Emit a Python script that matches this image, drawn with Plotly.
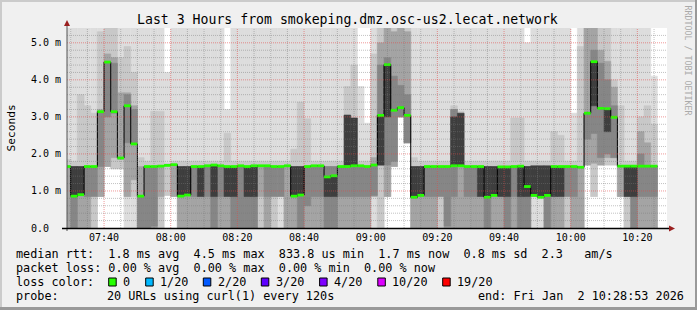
import numpy as np
import pandas as pd
import plotly.graph_objects as go

# ------------------------------------------------------------------ data
# 2-minute bins (start times); first one is clipped by the graph start
bin_start = pd.date_range("2026-01-02 07:28:00", periods=89, freq="2min")
graph_start = pd.Timestamp("2026-01-02 07:28:53")
graph_end = pd.Timestamp("2026-01-02 10:28:53")

# median rtt per bin (ms)
median_ms = [
    1.66, 0.86, 0.90, 1.66, 1.66, 3.14, 4.48, 3.14, 1.89, 3.30,
    2.27, 0.86, 1.66, 1.66, 1.67, 1.69, 1.71, 0.86, 0.89, 1.66,
    1.66, 1.68, 1.70, 1.68, 1.66, 1.66, 1.68, 1.66, 1.68, 1.68,
    1.68, 1.66, 1.66, 1.68, 0.86, 0.89, 1.66, 1.68, 1.68, 1.38,
    1.41, 1.66, 1.66, 1.68, 1.68, 1.66, 1.70, 3.04, 4.41, 3.18,
    3.25, 3.04, 0.83, 0.88, 1.66, 1.66, 1.66, 1.66, 1.68, 1.68,
    1.66, 1.66, 1.66, 0.83, 0.88, 1.65, 1.65, 1.66, 1.67, 1.12,
    0.88, 0.83, 0.88, 1.66, 1.66, 1.66, 1.66, 1.64, 3.10, 4.49,
    3.23, 3.22, 2.99, 1.67, 1.67, 1.67, 1.67, 1.67, 1.67,
]

# smoke bands (ms): lower / upper edge of each ping-spread band, outer -> inner
s1_lo = [
    0, 0, 0, 0, 0, 0.85, 1.66, 1.6, 1.6, 0,
    0, 0, 0, 0, 0, 0.88, 0.85, 0, 0, 0,
    0, 0, 0, 0, 0, 0, 0, 0, 0, 0,
    0, 0, 0, 0, 0, 0, 0, 0, 0, 0,
    0, 0, 0, 0, 0, 0, 0, 0, 0.85, 1.66,
    3.0, 2.3, 0, 0, 0, 0, 0, 0, 0, 0,
    0, 0, 0, 0, 0, 0, 0, 0, 0, 0,
    0, 0, 0, 0, 0, 0, 0, 0, 1.7, 0.85,
    1.7, 1.7, 1.7, 0.85, 0, 0, 0, 0, 0,
]
s1_hi = [
    5.6, 5.6, 5.6, 5.6, 5.6, 5.6, 5.6, 5.6, 5.6, 5.6,
    5.6, 5.6, 5.6, 5.6, 5.6, 4.2, 5.6, 5.6, 5.6, 5.6,
    5.6, 5.6, 5.6, 5.6, 3.2, 5.6, 5.6, 5.6, 5.6, 5.6,
    5.6, 5.6, 5.6, 5.6, 5.6, 5.6, 5.6, 5.6, 5.6, 5.6,
    5.6, 5.6, 5.6, 5.6, 3.82, 2.83, 5.6, 5.6, 5.6, 5.6,
    5.6, 5.6, 5.6, 5.6, 5.6, 5.6, 5.6, 5.6, 5.6, 5.6,
    5.6, 5.6, 5.6, 5.6, 5.6, 5.6, 5.6, 5.6, 5.6, 5.0,
    5.6, 5.6, 5.6, 5.6, 5.6, 5.6, 3.1, 5.6, 5.6, 5.6,
    5.6, 5.6, 5.6, 5.6, 5.6, 5.6, 5.6, 5.6, 4.1,
]
s2_lo = [
    0, 0, 0, 0, 0, 0.85, 1.66, 1.6, 1.6, 0.85,
    0.85, 0, 0, 0, 0, 0.88, 0.85, 0, 0, 0,
    0, 0, 0, 0, 0, 0, 0, 0, 0, 0,
    0, 0, 0.85, 0, 0, 0, 0, 0, 0, 0,
    0, 0, 0, 0, 0, 0, 0.85, 0, 0.85, 1.66,
    3.0, 2.3, 0, 0, 0, 0, 0, 0, 0, 0,
    0, 0, 0, 0, 0, 0, 0, 0, 0, 0,
    0.85, 0.85, 0, 0, 0, 0, 0, 0, 1.7, 0.85,
    1.7, 1.7, 1.7, 0.85, 0, 0, 0, 0, 0,
]
s2_hi = [
    1.85, 1.8, 3.6, 3.3, 3.1, 5.3, 5.4, 5.4, 4.6, 4.9,
    4.2, 1.9, 1.8, 3.15, 3.15, 1.75, 1.8, 1.8, 1.8, 1.8,
    1.8, 1.8, 1.8, 1.8, 2.56, 1.8, 1.8, 1.8, 1.8, 1.8,
    1.8, 1.8, 1.8, 1.8, 2.13, 3.4, 2.95, 1.8, 1.8, 1.8,
    1.8, 1.8, 3.82, 4.4, 1.8, 1.8, 4.7, 5.4, 5.4, 5.4,
    5.4, 5.4, 1.9, 1.8, 1.8, 1.8, 1.8, 1.8, 3.3, 3.15,
    1.8, 1.8, 1.8, 1.8, 1.8, 1.8, 1.8, 2.97, 2.97, 1.8,
    1.8, 1.8, 1.8, 2.6, 2.5, 1.8, 1.8, 4.9, 5.4, 5.4,
    5.4, 5.4, 4.0, 3.3, 1.8, 1.8, 3.0, 3.3, 2.8,
]
s3_lo = [
    0, 0, 0, 0, 0, 0.85, 1.66, 1.9, 1.85, 0.85,
    1.3, 0, 0, 0, 0.85, 0, 0.85, 0, 0, 0,
    0, 0, 0, 0, 0, 0, 0, 0, 0, 0.85,
    0, 0, 0, 0, 0, 0, 0, 0, 0, 0,
    0, 0, 0, 0, 0, 0, 0.85, 1.7, 0.85, 1.66,
    3.0, 2.3, 0, 0, 0, 0, 0, 0, 0, 0,
    0, 0, 0, 0, 0, 0, 0, 0, 0, 0,
    0.85, 0, 0, 0, 0, 0, 0, 0, 1.7, 1.75,
    1.7, 1.9, 1.9, 0.85, 0.85, 0, 0, 0, 0,
]
s3_hi = [
    1.66, 0, 1.66, 1.66, 0, 3.2, 4.7, 4.6, 3.65, 3.65,
    3.3, 1.66, 1.66, 1.66, 1.67, 0, 1.71, 1.66, 1.66, 1.66,
    1.66, 1.68, 1.7, 1.68, 1.66, 1.66, 1.68, 1.66, 1.68, 1.68,
    1.68, 0, 0, 1.68, 1.66, 1.66, 1.66, 1.68, 1.68, 1.66,
    1.66, 1.66, 1.66, 1.68, 1.68, 1.66, 1.9, 5.0, 5.4, 5.3,
    5.4, 5.3, 1.66, 1.66, 1.66, 1.66, 0, 1.66, 3.2, 3.1,
    1.66, 1.66, 1.66, 1.66, 1.66, 1.66, 1.66, 1.66, 1.67, 1.66,
    1.66, 0, 1.66, 1.66, 1.66, 0, 1.66, 1.64, 5.4, 5.4,
    4.8, 4.5, 3.8, 1.67, 1.67, 1.67, 2.6, 2.3, 1.67,
]
s4_lo = [
    0, 0, 0, 0.85, 0.85, 1.66, 3.0, 3.1, 0, 2.3,
    2.27, 0, 0, 0.05, 0, 0, 0, 0, 0, 0.85,
    0, 0.85, 0, 0.85, 0, 0, 0, 0, 0, 0,
    0.85, 0.85, 0.85, 0, 0, 0, 0.6, 0.85, 0.85, 0,
    0, 0.85, 0.85, 0.85, 0.85, 0.85, 0.88, 1.7, 1.7, 1.8,
    3.0, 2.3, 0, 0, 0.85, 0.85, 0.85, 0.05, 0.85, 0,
    0.85, 0.85, 0, 0, 0, 0, 0, 0.85, 0, 0,
    0, 0, 0, 0, 0, 0.85, 0.85, 0, 2.4, 2.55,
    1.9, 2.0, 1.9, 0, 0, 0, 0.85, 0.85, 0.85,
]
s4_hi = [
    0, 1.66, 0, 1.66, 1.66, 3.14, 4.48, 4.45, 0, 3.6,
    3.2, 0.87, 1.66, 1.66, 0, 0, 0, 0, 0, 1.66,
    0, 1.68, 0.85, 1.68, 0, 0.85, 1.68, 1.66, 1.68, 0,
    1.68, 1.66, 1.66, 0, 0, 0.89, 1.66, 1.68, 1.68, 1.66,
    1.66, 1.66, 1.66, 1.68, 1.68, 1.66, 1.70, 4.4, 4.6, 4.1,
    3.85, 3.6, 0, 0, 1.66, 1.66, 1.66, 1.66, 3.2, 0,
    1.66, 1.66, 0, 0.83, 0, 0, 0.85, 1.66, 0.85, 1.66,
    0, 0, 0.88, 0, 0, 1.66, 1.66, 0, 3.1, 4.8,
    4.45, 4.0, 3.3, 0, 0, 0.85, 2.0, 1.67, 1.67,
]
s5_lo = [
    0, 0.86, 0.9, 0, 0, 0, 0, 0, 0, 0,
    0, 0, 0, 0, 0, 0, 0, 0.86, 0.89, 0,
    0.85, 0, 0.85, 0, 0.85, 0.85, 0, 0.85, 0.85, 0,
    0, 0, 0, 0, 0.86, 0.89, 0, 0, 0, 0.85,
    0.85, 0, 1.68, 1.68, 0, 0, 0, 1.7, 3.0, 0,
    0, 0, 0.83, 0.88, 0, 0, 0, 0, 1.7, 1.7,
    0, 0, 0.85, 0.83, 0.88, 0.85, 0.85, 0, 0.85, 0.85,
    0.88, 0.83, 0.88, 0.85, 0.85, 0, 0, 0, 0, 3.3,
    0, 2.6, 0, 0, 0.85, 0.85, 0, 0, 0,
]
s5_hi = [
    0, 1.66, 1.66, 0, 0, 0, 0, 0, 0, 0,
    0, 0, 0, 0, 0, 0, 0, 1.66, 1.66, 0,
    1.66, 0, 1.7, 0, 1.66, 1.66, 0, 1.66, 1.68, 0,
    0, 0, 0, 0, 1.66, 1.66, 0, 0, 0, 1.38,
    1.41, 0, 3.05, 2.97, 0, 0, 0, 3.04, 4.41, 0,
    0, 0, 1.66, 1.66, 0, 0, 0, 0, 3.0, 3.1,
    0, 0, 1.66, 1.66, 1.66, 1.65, 1.65, 0, 1.67, 1.66,
    1.68, 1.68, 1.68, 1.66, 1.66, 0, 0, 0, 0, 4.49,
    0, 3.22, 0, 0, 1.67, 1.67, 0, 0, 0,
]

x_tick_labels = ["07:40", "08:00", "08:20", "08:40", "09:00", "09:20", "09:40", "10:00", "10:20"]
y_tick_vals = [0, 1, 2, 3, 4, 5]
y_tick_labels = ["0.0\u00a0\u00a0", "1.0 m", "2.0 m", "3.0 m", "4.0 m", "5.0 m"]

rtt_avg, rtt_max, rtt_min, rtt_now, rtt_sd, rtt_ams = "1.8 ms", "4.5 ms", "833.8 us", "1.7 ms", "0.8 ms", "2.3"
loss_avg, loss_max, loss_min, loss_now = "0.00 %", "0.00 %", "0.00 %", "0.00 %"
loss_labels = ["0", "1/20", "2/20", "3/20", "4/20", "10/20", "19/20"]
probe_text = "20 URLs using curl(1) every 120s"
end_text = "end: Fri Jan  2 10:28:53 2026"
title_text = "Last 3 Hours from smokeping.dmz.osc-us2.lecat.network"

# ------------------------------------------------------------------ styles / layout
W, H = 697, 310
PL, PR, PT, PB = 67, 667, 28, 228          # plot area in pixels
MONO = "DejaVu Sans Mono"
smoke_colors = ["#dddddd", "#c8c8c8", "#a4a4a4", "#868686", "#3e3e3e"]
loss_colors = ["#26ff00", "#00b8ff", "#0059ff", "#5e00ff", "#7e00ff", "#dd00ff", "#ff0000"]
legend_box_x = [108.7, 145.7, 203.3, 261.3, 319.6, 377.8, 442.7]


def px(x):
    return (x - PL) / (PR - PL)


def py(y):
    return (PB - y) / (PB - PT)


def nb(s):
    return s.replace(" ", "\u00a0")


centers = bin_start + pd.Timedelta(minutes=1)
bin_end = bin_start + pd.Timedelta(minutes=2)
BIN_MS = 120000

fig = go.Figure()

for (lo, hi), col in zip([(s1_lo, s1_hi), (s2_lo, s2_hi), (s3_lo, s3_hi),
                          (s4_lo, s4_hi), (s5_lo, s5_hi)], smoke_colors):
    lo = np.array(lo, dtype=float)
    hi = np.array(hi, dtype=float)
    h = np.where(hi > lo, hi - lo, np.nan)
    fig.add_trace(go.Bar(
        x=centers, y=h, base=lo, width=BIN_MS,
        marker=dict(color=col, line=dict(color=col, width=0.6)),
        showlegend=False, hoverinfo="skip"))

# median step line
med = np.array(median_ms)
fig.add_trace(go.Scatter(
    x=list(bin_start) + [bin_end[-1]],
    y=list(med) + [med[-1]],
    mode="lines", line=dict(color="#000000", width=1, shape="hv"),
    showlegend=False, hoverinfo="skip"))

# loss-coloured median marks (0 loss -> green), drawn over the black line
gx, gy = [], []
for s, e, m in zip(bin_start, bin_end, med):
    gx += [s, e, None]
    gy += [m, m, None]
fig.add_trace(go.Scatter(
    x=gx, y=gy, mode="lines", connectgaps=False,
    line=dict(color=loss_colors[0], width=2.8),
    showlegend=False, hoverinfo="skip"))

shapes = []
# grid (drawn above the smoke, like rrdtool)
for t in pd.date_range("2026-01-02 07:30", "2026-01-02 10:25", freq="5min"):
    major = t.minute % 20 == 0
    shapes.append(dict(type="line", xref="x", yref="paper", x0=t, x1=t, y0=0, y1=1,
                       line=dict(color="rgba(225,70,70,0.55)" if major else "rgba(120,120,120,0.45)",
                                 width=1, dash="1px,1px"), layer="above"))
for i in range(1, 27):
    v = round(i * 0.2, 1)
    major = abs(v - round(v)) < 1e-6
    shapes.append(dict(type="line", xref="paper", yref="y", x0=0, x1=1, y0=v, y1=v,
                       line=dict(color="rgba(225,70,70,0.55)" if major else "rgba(120,120,120,0.45)",
                                 width=1, dash="1px,1px"), layer="above"))

# axes
shapes.append(dict(type="line", xref="paper", yref="paper", x0=px(PL), x1=px(PL),
                   y0=py(PB + 3), y1=py(22), line=dict(color="#555555", width=1), layer="above"))
shapes.append(dict(type="line", xref="paper", yref="paper", x0=px(62), x1=px(671),
                   y0=py(PB + 0.5), y1=py(PB + 0.5), line=dict(color="#000000", width=1.3), layer="above"))
shapes.append(dict(type="path", xref="paper", yref="paper",
                   path=f"M {px(64)},{py(26)} L {px(PL)},{py(20)} L {px(70)},{py(26)} Z",
                   fillcolor="#9a1f1f", line=dict(width=0), layer="above"))
shapes.append(dict(type="path", xref="paper", yref="paper",
                   path=f"M {px(669)},{py(225.5)} L {px(675)},{py(PB + 0.5)} L {px(669)},{py(231.5)} Z",
                   fillcolor="#9a1f1f", line=dict(width=0), layer="above"))

# 3D frame
shapes.append(dict(type="rect", xref="paper", yref="paper", x0=px(0), x1=px(W), y0=py(0), y1=py(2),
                   fillcolor="#cbcbcb", line=dict(width=0), layer="above"))
shapes.append(dict(type="rect", xref="paper", yref="paper", x0=px(0), x1=px(2), y0=py(0), y1=py(H),
                   fillcolor="#cbcbcb", line=dict(width=0), layer="above"))
shapes.append(dict(type="rect", xref="paper", yref="paper", x0=px(0), x1=px(W), y0=py(H - 3), y1=py(H),
                   fillcolor="#999999", line=dict(width=0), layer="above"))
shapes.append(dict(type="rect", xref="paper", yref="paper", x0=px(W - 2), x1=px(W), y0=py(0), y1=py(H),
                   fillcolor="#999999", line=dict(width=0), layer="above"))

# legend colour boxes
for bx, col in zip(legend_box_x, loss_colors):
    shapes.append(dict(type="rect", xref="paper", yref="paper",
                       x0=px(bx), x1=px(bx + 7.5), y0=py(278), y1=py(286),
                       fillcolor=col, line=dict(color="#000000", width=1), layer="above"))

annotations = []


def txt(x, y, s, size=11.8, anchor="left", color="#000000", angle=0):
    annotations.append(dict(x=px(x), y=py(y), xref="paper", yref="paper", text=nb(s),
                            showarrow=False, xanchor=anchor, yanchor="middle",
                            font=dict(family=MONO, size=size, color=color),
                            borderpad=0, borderwidth=0, textangle=angle))


txt(347.5, 19, title_text, size=13.2, anchor="center")
txt(10.5, 128, "Seconds", size=11.2, anchor="center", angle=-90)
txt(687.5, 60, "RRDTOOL / TOBI OETIKER", size=8.3, anchor="center", color="#aaaaaa", angle=90)

row1 = (f"median rtt:  {rtt_avg} avg  {rtt_max} max  {rtt_min} min  "
        f"{rtt_now} now  {rtt_sd} sd  {rtt_ams}   am/s")
row2 = f"packet loss: {loss_avg} avg  {loss_max} max  {loss_min} min  {loss_now} now"
txt(16, 254, row1)
txt(16, 268, row2)
txt(16, 282, "loss color:")
for bx, lab in zip(legend_box_x, loss_labels):
    txt(bx + 14.6, 282, lab)
txt(16, 296, "probe:")
txt(107.3, 296, probe_text)
txt(478, 296, end_text)

x_tick_vals = [pd.Timestamp("2026-01-02 " + s) for s in x_tick_labels]

fig.update_layout(
    width=W, height=H, autosize=False,
    margin=dict(l=PL, r=W - PR, t=PT, b=H - PB, pad=0),
    paper_bgcolor="#f0f0f0", plot_bgcolor="#ffffff",
    barmode="overlay", bargap=0, hovermode=False, showlegend=False,
    shapes=shapes, annotations=annotations,
    xaxis=dict(type="date", range=[graph_start, graph_end], showgrid=False, zeroline=False,
               showline=False, ticks="", tickvals=x_tick_vals, ticktext=x_tick_labels,
               tickfont=dict(family=MONO, size=10, color="#000000"), ticklabelstandoff=2,
               fixedrange=True),
    yaxis=dict(range=[0, 5.4], showgrid=False, zeroline=False, showline=False, ticks="",
               tickvals=y_tick_vals, ticktext=y_tick_labels,
               tickfont=dict(family=MONO, size=10, color="#000000"), ticklabelstandoff=5,
               fixedrange=True),
)

fig.write_html("out.html", include_plotlyjs=True, config={"displayModeBar": False, "staticPlot": True})
